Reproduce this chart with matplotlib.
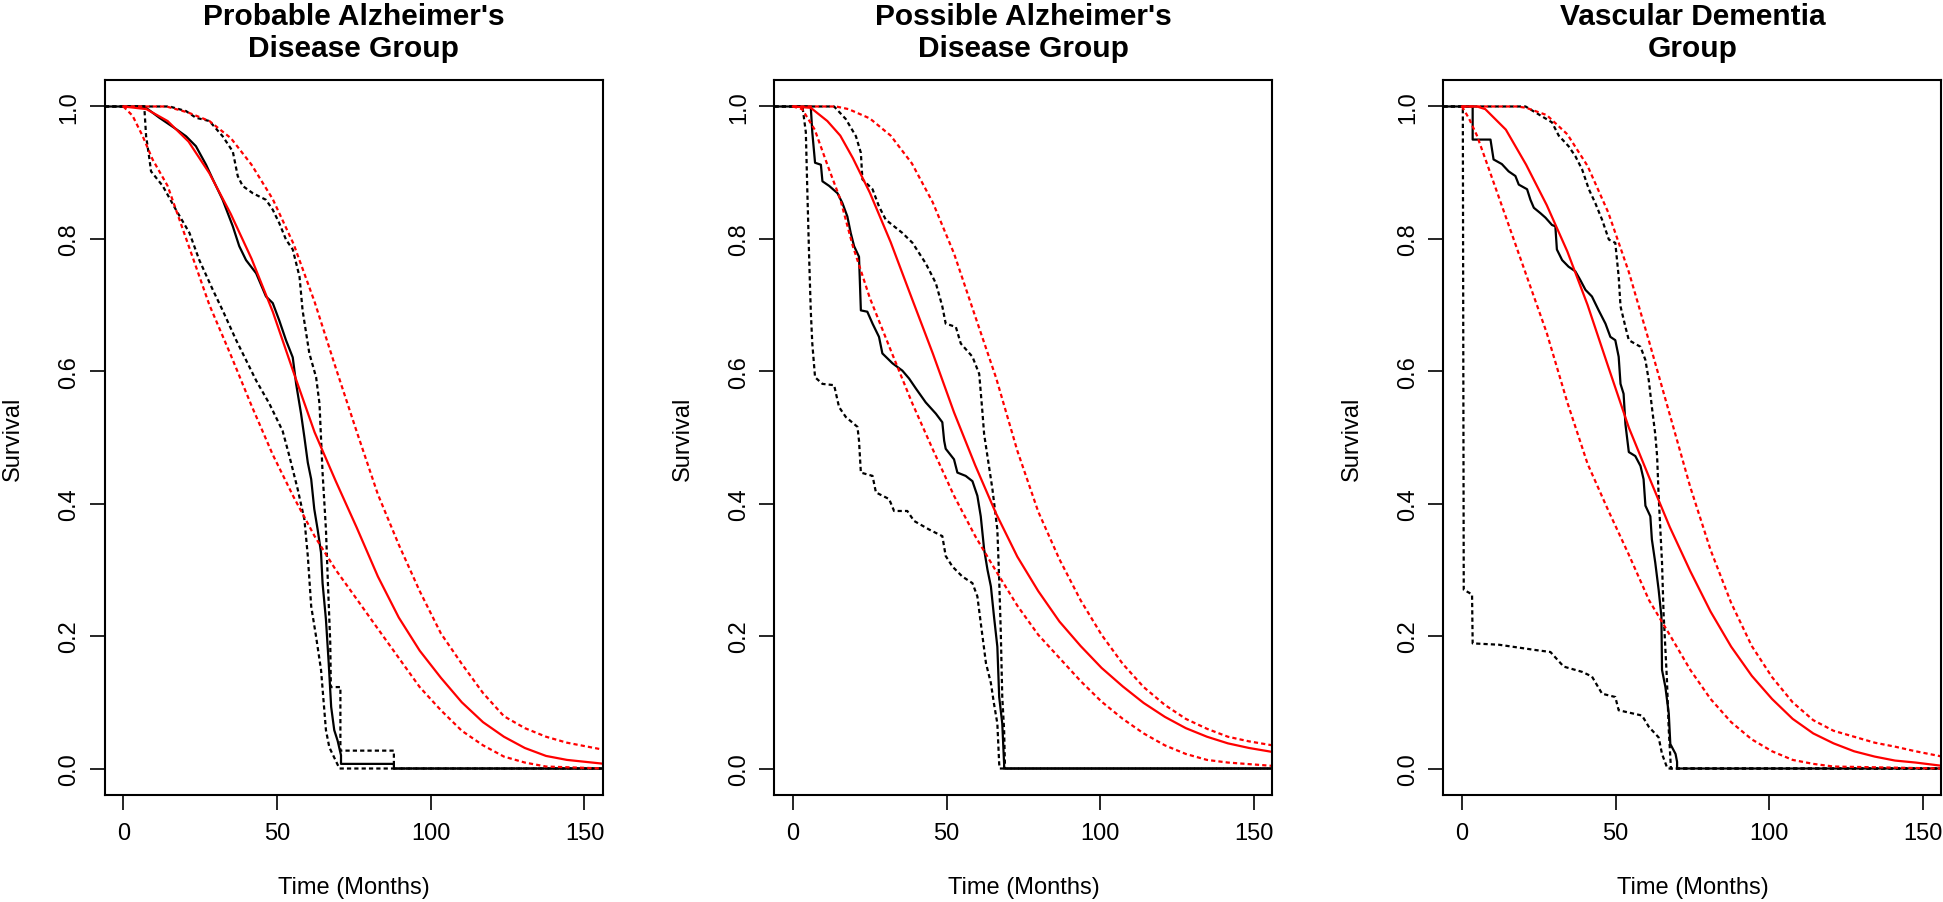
import matplotlib
matplotlib.use("Agg")
import matplotlib.pyplot as plt

plt.rcParams['font.family'] = ['Liberation Sans', 'DejaVu Sans']

titles = ["Probable Alzheimer's\nDisease Group",
          "Possible Alzheimer's\nDisease Group",
          "Vascular Dementia\nGroup"]

# ---- Probable AD ----
km1_t = [-6, 6.8, 11.7, 17.1, 20.4, 23.6, 26.9, 29.1, 32.3, 35.6, 37.7, 39.9, 43.2, 46.4, 48.6,
         50.7, 52.9, 55.1, 56.2, 57.8, 58.9, 60.0, 61.1, 62.1, 63.2, 64.3, 64.8, 65.9, 66.8, 67.6,
         68.6, 69.7, 70.8, 70.8, 88, 88, 156]
km1_s = [1.0, 1.0, 0.983, 0.966, 0.955, 0.940, 0.912, 0.890, 0.859, 0.819, 0.789, 0.768, 0.748,
         0.713, 0.703, 0.677, 0.647, 0.621, 0.581, 0.536, 0.500, 0.462, 0.437, 0.392, 0.361, 0.326,
         0.280, 0.225, 0.159, 0.093, 0.058, 0.042, 0.020, 0.007, 0.007, 0.0, 0.0]
lo1_t = [-6, 6.8, 7.4, 8.5, 9.0, 12.8, 17.1, 21.5, 24.7, 29.1, 32.3, 36.7, 39.9, 43.2, 47.5, 51.8,
         54.0, 56.7, 58.9, 60.0, 61.1, 62.7, 64.3, 65.9, 67.0, 70.3, 156]
lo1_s = [1.0, 1.0, 0.955, 0.920, 0.902, 0.880, 0.844, 0.809, 0.768, 0.723, 0.692, 0.647, 0.617,
         0.586, 0.551, 0.510, 0.472, 0.422, 0.376, 0.321, 0.245, 0.199, 0.149, 0.058, 0.032, 0.0, 0.0]
up1_t = [-6, 15.0, 20.4, 23.6, 28.0, 32.3, 35.6, 37.2, 38.8, 42.1, 46.4, 48.6, 50.7, 52.9, 55.1,
         57.3, 58.3, 60.5, 62.7, 63.8, 64.8, 65.9, 66.5, 67.3, 67.5, 70.6, 70.6, 88, 88, 156]
up1_s = [1.0, 1.0, 0.993, 0.983, 0.978, 0.955, 0.932, 0.895, 0.880, 0.869, 0.859, 0.844, 0.824,
         0.799, 0.784, 0.743, 0.692, 0.627, 0.591, 0.551, 0.447, 0.361, 0.285, 0.190, 0.123, 0.123,
         0.027, 0.027, 0.0, 0.0]
fit1_t = [0, 7.5, 14.4, 21.2, 28, 34.9, 41.7, 48.6, 55.4, 62.2, 69.1, 75.9, 82.8, 89.6, 96.4,
          103.3, 110.1, 117, 123.8, 130.6, 137.5, 144.3, 156.6]
fit1_s = [1.0, 0.996, 0.978, 0.947, 0.899, 0.838, 0.770, 0.690, 0.598, 0.508, 0.434, 0.364, 0.290,
          0.228, 0.178, 0.137, 0.100, 0.070, 0.048, 0.031, 0.019, 0.013, 0.007]
fup1_t = [0, 14, 21, 28, 35, 41.7, 48.6, 55.4, 62.2, 69.1, 75.9, 82.8, 89.6, 96.4, 103.3, 110.1,
          117, 123.8, 130.6, 137.5, 144.3, 156.6]
fup1_s = [1.0, 1.0, 0.991, 0.978, 0.952, 0.912, 0.860, 0.792, 0.705, 0.605, 0.509, 0.414, 0.338,
          0.268, 0.204, 0.158, 0.114, 0.079, 0.061, 0.048, 0.039, 0.028]
flo1_t = [0, 3.0, 6.3, 9.5, 14.4, 21.2, 28, 34.9, 41.7, 48.6, 55.4, 62.2, 69.1, 75.9, 82.8, 89.6,
          96.4, 103.3, 110.1, 117, 123.8, 130.6, 137.5, 156.6]
flo1_s = [1.0, 0.986, 0.955, 0.920, 0.880, 0.790, 0.700, 0.625, 0.548, 0.474, 0.410, 0.351, 0.300,
          0.256, 0.211, 0.167, 0.123, 0.088, 0.057, 0.035, 0.018, 0.009, 0.003, 0.0]

# ---- Possible AD ----
km2_t = [-6, 5.8, 6.3, 7.2, 9.1, 9.6, 11.8, 14.5, 16.1, 17.7, 18.8, 19.9, 21.5, 22.1, 24.2, 25.9,
         28.0, 29.1, 32.4, 35.6, 37.8, 40.0, 43.2, 46.5, 48.6, 49.2, 49.7, 52.4, 53.5, 56.2, 58.4,
         60.0, 61.1, 62.2, 63.3, 64.4, 65.4, 66.5, 67.1, 68.1, 68.7, 68.7, 156]
km2_s = [1.0, 1.0, 0.961, 0.915, 0.912, 0.887, 0.880, 0.869, 0.854, 0.834, 0.809, 0.789, 0.773,
         0.692, 0.690, 0.672, 0.652, 0.627, 0.612, 0.601, 0.589, 0.574, 0.553, 0.536, 0.523, 0.495,
         0.483, 0.467, 0.447, 0.442, 0.434, 0.412, 0.381, 0.331, 0.300, 0.275, 0.230, 0.184, 0.108,
         0.068, 0.007, 0.0, 0.0]
up2_t = [-6, 13.4, 17.2, 20.5, 22.1, 22.6, 25.9, 28.0, 30.2, 35.6, 38.9, 43.2, 46.5, 48.6, 49.7,
         53.0, 54.6, 58.4, 60.6, 61.6, 62.2, 64.9, 66.5, 67.1, 67.6, 68.1, 68.7, 69.0, 156]
up2_s = [1.0, 1.0, 0.981, 0.955, 0.930, 0.890, 0.875, 0.849, 0.829, 0.809, 0.794, 0.763, 0.733,
         0.698, 0.672, 0.667, 0.642, 0.622, 0.596, 0.541, 0.505, 0.422, 0.361, 0.285, 0.209, 0.108,
         0.058, 0.0, 0.0]
lo2_t = [-6, 3.1, 4.2, 4.7, 5.3, 5.8, 6.3, 7.2, 9.6, 13.4, 15.0, 17.2, 21.0, 21.5, 22.1, 25.9,
         27.0, 31.3, 32.9, 37.2, 39.4, 44.3, 48.6, 49.7, 51.9, 55.1, 58.4, 60.0, 61.1, 62.8, 64.4,
         65.4, 66.5, 67.1, 67.3, 156]
lo2_s = [1.0, 1.0, 0.961, 0.870, 0.768, 0.692, 0.642, 0.591, 0.581, 0.579, 0.546, 0.531, 0.516,
         0.495, 0.447, 0.442, 0.417, 0.407, 0.389, 0.389, 0.374, 0.361, 0.351, 0.321, 0.305, 0.290,
         0.280, 0.260, 0.220, 0.159, 0.129, 0.098, 0.068, 0.007, 0.0, 0.0]
fit2_t = [0, 5.8, 11.2, 15.4, 19.5, 25, 31.8, 38.7, 45.5, 52.4, 59.3, 66.1, 73, 79.8, 86.7, 93.6,
          100.4, 107.3, 114.1, 121, 127.8, 134.7, 141.5, 148.4, 156]
fit2_s = [1.0, 0.998, 0.978, 0.956, 0.922, 0.870, 0.795, 0.710, 0.627, 0.538, 0.458, 0.385, 0.320,
          0.268, 0.222, 0.185, 0.152, 0.124, 0.099, 0.078, 0.061, 0.048, 0.038, 0.031, 0.025]
fup2_t = [0, 14, 18.1, 25, 31.8, 38.7, 45.5, 52.4, 59.3, 66.1, 73, 79.8, 86.7, 93.6, 100.4, 107.3,
          114.1, 121, 127.8, 134.7, 141.5, 148.4, 156]
fup2_s = [1.0, 1.0, 0.996, 0.982, 0.956, 0.914, 0.855, 0.778, 0.683, 0.590, 0.480, 0.388, 0.316,
          0.254, 0.202, 0.158, 0.123, 0.096, 0.075, 0.060, 0.048, 0.041, 0.035]
flo2_t = [0, 3, 7.1, 11.2, 15.4, 19.5, 25, 31.8, 38.7, 45.5, 52.4, 59.3, 66.1, 73, 79.8, 86.7,
          93.6, 100.4, 107.3, 114.1, 121, 127.8, 134.7, 141.5, 156]
flo2_s = [1.0, 0.996, 0.965, 0.912, 0.860, 0.789, 0.711, 0.632, 0.553, 0.482, 0.412, 0.351, 0.298,
          0.246, 0.202, 0.167, 0.132, 0.101, 0.075, 0.053, 0.035, 0.022, 0.013, 0.009, 0.004]

# ---- Vascular dementia ----
km3_t = [-6, 3.5, 3.5, 9.3, 10.3, 13.0, 15.2, 17.4, 18.5, 21.2, 22.3, 23.4, 25.5, 27.2, 29.3,
         30.4, 30.9, 32.6, 34.7, 36.9, 38.5, 40.2, 42.3, 44.5, 46.7, 48.3, 49.9, 51.0, 51.6, 52.6,
         53.2, 54.3, 56.4, 58.1, 59.1, 59.7, 61.3, 61.8, 62.9, 64.0, 64.9, 65.1, 66.2, 67.3, 67.8,
         69.5, 70.0, 70.0, 156]
km3_s = [1.0, 1.0, 0.950, 0.950, 0.920, 0.913, 0.902, 0.895, 0.882, 0.875, 0.859, 0.847, 0.839,
         0.832, 0.821, 0.819, 0.784, 0.768, 0.758, 0.751, 0.738, 0.723, 0.713, 0.692, 0.672, 0.652,
         0.647, 0.622, 0.581, 0.566, 0.520, 0.478, 0.472, 0.457, 0.437, 0.397, 0.381, 0.346, 0.311,
         0.270, 0.230, 0.149, 0.123, 0.083, 0.037, 0.022, 0.010, 0.0, 0.0]
up3_t = [-6, 20.7, 25.0, 29.3, 31.5, 34.7, 36.9, 39.1, 41.3, 43.4, 45.6, 47.8, 49.9, 51.0, 51.6,
         53.2, 54.3, 58.1, 59.7, 60.8, 61.8, 62.9, 63.5, 64.0, 65.1, 65.6, 66.7, 67.3, 67.8, 68.0, 156]
up3_s = [1.0, 1.0, 0.988, 0.976, 0.956, 0.940, 0.925, 0.905, 0.875, 0.854, 0.829, 0.799, 0.794,
         0.743, 0.698, 0.667, 0.647, 0.637, 0.617, 0.586, 0.546, 0.505, 0.472, 0.412, 0.311, 0.235,
         0.134, 0.058, 0.017, 0.0, 0.0]
lo3_t = [-6, 0.3, 0.6, 3.3, 3.5, 12.0, 23.9, 28.8, 33.1, 39.1, 42.3, 45.6, 49.9, 51.0, 58.6, 60.8,
         64.0, 65.1, 66.7, 67.0, 156]
lo3_s = [1.0, 1.0, 0.270, 0.263, 0.189, 0.187, 0.179, 0.176, 0.154, 0.146, 0.139, 0.113, 0.108,
         0.088, 0.080, 0.063, 0.047, 0.022, 0.002, 0.0, 0.0]
fit3_t = [0, 4.9, 7.6, 14.3, 20.9, 27.6, 34.3, 40.9, 47.6, 54.3, 60.9, 67.6, 74.3, 80.9, 87.6,
          94.3, 100.9, 107.6, 114.3, 120.9, 127.6, 134.3, 140.9, 147.6, 156.3]
fit3_s = [1.0, 1.0, 0.996, 0.965, 0.912, 0.851, 0.781, 0.700, 0.607, 0.515, 0.440, 0.365, 0.298,
          0.237, 0.184, 0.140, 0.105, 0.075, 0.053, 0.038, 0.026, 0.018, 0.012, 0.009, 0.004]
fup3_t = [0, 18, 20.9, 27.6, 34.3, 40.9, 47.6, 54.3, 60.9, 67.6, 74.3, 80.9, 87.6, 94.3, 100.9,
          107.6, 114.3, 120.9, 127.6, 134.3, 140.9, 147.6, 156.3]
fup3_s = [1.0, 1.0, 0.998, 0.987, 0.958, 0.910, 0.840, 0.750, 0.645, 0.535, 0.425, 0.330, 0.250,
          0.185, 0.138, 0.100, 0.073, 0.057, 0.048, 0.039, 0.033, 0.026, 0.018]
flo3_t = [0, 2.3, 4.9, 7.6, 14.3, 20.9, 27.6, 34.3, 40.9, 47.6, 54.3, 60.9, 67.6, 74.3, 80.9,
          87.6, 94.3, 100.9, 107.6, 114.3, 120.9, 156.3]
flo3_s = [1.0, 0.982, 0.956, 0.921, 0.833, 0.746, 0.658, 0.553, 0.460, 0.390, 0.323, 0.254, 0.202,
          0.149, 0.105, 0.070, 0.044, 0.026, 0.013, 0.007, 0.003, 0.0]

panels = [
    (km1_t, km1_s, lo1_t, lo1_s, up1_t, up1_s, fit1_t, fit1_s, flo1_t, flo1_s, fup1_t, fup1_s),
    (km2_t, km2_s, lo2_t, lo2_s, up2_t, up2_s, fit2_t, fit2_s, flo2_t, flo2_s, fup2_t, fup2_s),
    (km3_t, km3_s, lo3_t, lo3_s, up3_t, up3_s, fit3_t, fit3_s, flo3_t, flo3_s, fup3_t, fup3_s),
]

fig = plt.figure(figsize=(19.43, 9.03), dpi=100)
lefts = [0.0540, 0.3986, 0.7429]
dots = (0, (1.9, 1.4))

for i, (title, p) in enumerate(zip(titles, panels)):
    ax = fig.add_axes([lefts[i], 0.1185, 0.2563, 0.7918])
    kt, ks, lt, ls, ut, us, ft, fs, flt, fls, fut, fus = p
    # KM estimate with its confidence band
    ax.plot(kt, ks, color='black', lw=1.6)
    ax.plot(lt, ls, color='black', lw=1.6, ls=dots)
    ax.plot(ut, us, color='black', lw=1.6, ls=dots)
    # fitted curve with its band
    ax.plot(ft, fs, color='red', lw=1.6)
    ax.plot(flt, fls, color='red', lw=1.6, ls=dots)
    ax.plot(fut, fus, color='red', lw=1.6, ls=dots)

    ax.set_xlim(-6, 156)
    ax.set_ylim(-0.04, 1.04)
    ax.set_xticks([0, 50, 100, 150])
    ax.set_yticks([0.0, 0.2, 0.4, 0.6, 0.8, 1.0])
    ax.set_yticklabels(['0.0', '0.2', '0.4', '0.6', '0.8', '1.0'], rotation=90, va='center')
    ax.tick_params(length=10.5, width=1.2, labelsize=17, pad=7)
    ax.tick_params(axis='x', pad=9)
    for sp in ax.spines.values():
        sp.set_linewidth(1.5)
    ax.set_xlabel('Time (Months)', fontsize=17)
    ax.set_ylabel('Survival', fontsize=17)
    ax.xaxis.set_label_coords(0.5, -0.113)
    ax.yaxis.set_label_coords(-0.162, 0.5)
    ax.set_title(title, fontsize=21.5, fontweight='bold', pad=17.5, linespacing=1.19)

fig.savefig('out.png', dpi=100)
